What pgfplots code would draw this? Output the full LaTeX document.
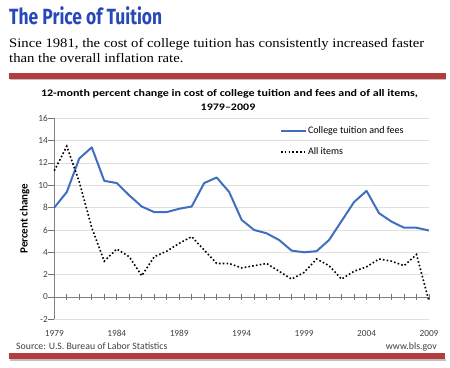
\documentclass[border=0pt]{standalone}
\usepackage{fontspec}
\setmainfont{Carlito}
\newfontfamily\titlefont{Fira Sans}
\newfontfamily\bodyfont{Liberation Serif}
\usepackage{pgfplots}
\pgfplotsset{compat=1.18}
\definecolor{tuit}{RGB}{66,110,192}
\definecolor{hdr}{RGB}{38,72,184}
\definecolor{barred}{RGB}{178,60,62}
\newsavebox\tboxa
\newsavebox\tboxb
\newsavebox\tboxc
\begin{document}%
\sbox\tboxa{\color{hdr}\titlefont\fontsize{22}{24}\selectfont\bfseries The Price of Tuition}%
\pgfmathsetmacro\sx{153/\wd\tboxa}%
\sbox\tboxb{\bodyfont\fontsize{13}{15}\selectfont Since 1981, the cost of college tuition has consistently increased faster}%
\pgfmathsetmacro\sb{415/\wd\tboxb}%
\sbox\tboxc{\fontsize{10}{12}\selectfont\bfseries 12-month percent change in cost of college tuition and fees and of all items,}%
\pgfmathsetmacro\sc{377/\wd\tboxc}%
\begin{tikzpicture}
\useasboundingbox (0pt,0pt) rectangle (450pt,367pt);
% header
\node[anchor=base west,inner sep=0] at (9pt,342pt) {\scalebox{\sx}[1]{\usebox\tboxa}};
\node[anchor=base west,inner sep=0] at (9pt,319pt) {\scalebox{\sb}[1]{\usebox\tboxb}};
\node[anchor=base west,inner sep=0] at (9pt,304pt) {\scalebox{\sb}[1]{\bodyfont\fontsize{13}{15}\selectfont than the overall inflation rate.}};
\fill[black!25] (10pt,286.5pt) rectangle (446pt,288.5pt);
\fill[barred] (9pt,287.7pt) rectangle (445.5pt,294.3pt);
% chart title
\node[anchor=base,inner sep=0] at (229.5pt,270pt) {\scalebox{\sc}[1]{\usebox\tboxc}};
\node[anchor=base,inner sep=0] at (228pt,256pt) {\scalebox{\sc}[1]{\fontsize{10}{12}\selectfont\bfseries 1979--2009}};
% source
\node[anchor=base west,inner sep=0,text=black!75] at (16pt,17pt) {\fontsize{9.8}{11}\selectfont Source: U.S. Bureau of Labor Statistics};
\node[anchor=base east,inner sep=0,text=black!75] at (437pt,17pt) {\fontsize{9.8}{11}\selectfont www.bls.gov};
\fill[black!25] (10pt,6.5pt) rectangle (446pt,8.5pt);
\fill[barred] (9pt,7.7pt) rectangle (445pt,13.7pt);
\begin{axis}[
  at={(54.3pt,47.7pt)}, anchor=south west,
  scale only axis, width=374.7pt, height=201pt,
  xmin=1979, xmax=2009, ymin=-2, ymax=16,
  axis x line*=middle, axis y line*=left,
  hide obscured x ticks=false,
  axis line style={black!50, line width=0.7pt},
  xtick={1979,1984,...,2009},
  minor xtick={1979,...,2009},
  xticklabel style={yshift=-27pt},
  x tick label style={/pgf/number format/1000 sep={}},
  ytick={-2,0,...,16},
  tick align=center,
  major tick length=6pt, minor tick length=6pt,
  xtick style={draw=black!55, line width=0.7pt},
  minor x tick style={draw=black!55, line width=0.7pt},
  ytick style={draw=black!55, line width=0.7pt, xshift=-3pt},
  ymajorgrids, major grid style={black!12, line width=0.6pt},
  tick label style={font=\fontsize{9.3}{10}\selectfont, text=black!75},
  /pgf/number format/assume math mode=true,
  ylabel={\bfseries Percent change},
  ylabel style={font=\fontsize{11}{12}\selectfont},
  ylabel shift=2pt,
  legend style={at={(0.602,0.965)}, anchor=north west, draw=none, fill=none,
    font=\fontsize{10}{11}\selectfont, row sep=11pt, inner sep=0pt,
    nodes={inner sep=1pt}},
  legend cell align=left,
  legend image code/.code={\draw[#1] (0pt,0pt) -- (25pt,0pt);},
  clip=false,
]
\addplot[tuit, line width=2pt, line join=round] coordinates {
(1979,8.0)(1980,9.4)(1981,12.4)(1982,13.4)(1983,10.4)(1984,10.2)(1985,9.1)
(1986,8.1)(1987,7.6)(1988,7.6)(1989,7.9)(1990,8.1)(1991,10.2)(1992,10.7)
(1993,9.4)(1994,6.9)(1995,6.0)(1996,5.7)(1997,5.1)(1998,4.15)(1999,4.0)
(2000,4.1)(2001,5.1)(2002,6.8)(2003,8.5)(2004,9.5)(2005,7.5)(2006,6.75)
(2007,6.2)(2008,6.2)(2009,5.95)};
\addlegendentry{College tuition and fees}
\addplot[black, line width=1.6pt, dash pattern=on 1.6pt off 2.2pt] coordinates {
(1979,11.3)(1980,13.5)(1981,10.3)(1982,6.2)(1983,3.2)(1984,4.3)(1985,3.6)
(1986,1.9)(1987,3.6)(1988,4.1)(1989,4.8)(1990,5.4)(1991,4.2)(1992,3.0)
(1993,3.0)(1994,2.6)(1995,2.8)(1996,3.0)(1997,2.3)(1998,1.6)(1999,2.2)
(2000,3.4)(2001,2.8)(2002,1.6)(2003,2.3)(2004,2.7)(2005,3.4)(2006,3.2)
(2007,2.8)(2008,3.8)(2009,-0.4)};
\addlegendentry{All items}
\end{axis}
\end{tikzpicture}%
\end{document}
